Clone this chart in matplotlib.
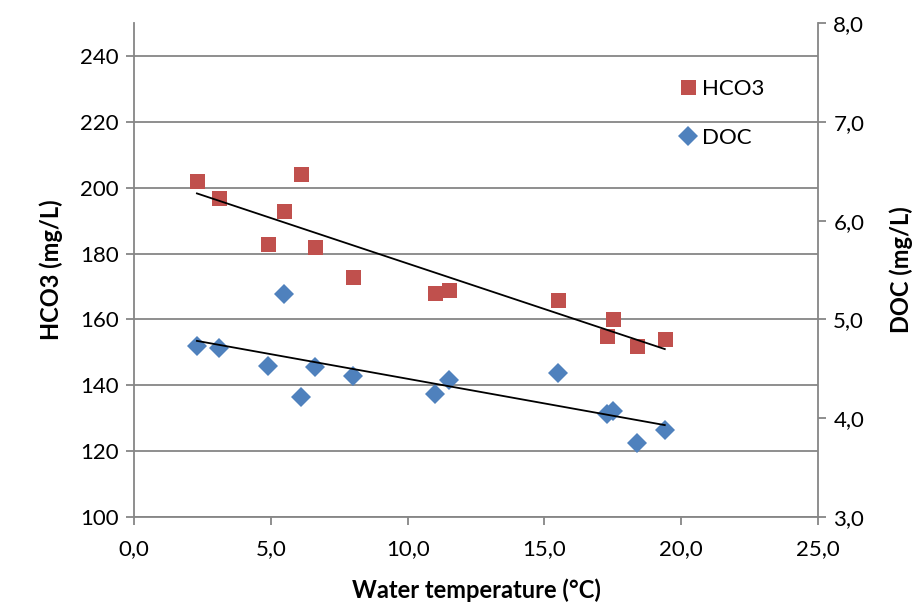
import numpy as np
import matplotlib
matplotlib.use("Agg")
import matplotlib.pyplot as plt
from matplotlib.ticker import FuncFormatter

plt.rcParams['font.family'] = ['Lato', 'DejaVu Sans']

temp_hco3 = [2.3, 3.1, 4.9, 5.5, 6.1, 6.6, 8.0, 11.0, 11.5, 15.5, 17.3, 17.5, 18.4, 19.4]
hco3 = [202, 197, 183, 193, 204, 182, 173, 168, 169, 166, 155, 160, 152, 154]
temp_doc = [2.3, 3.1, 4.9, 5.5, 6.1, 6.6, 8.0, 11.0, 11.5, 15.5, 17.3, 17.5, 18.4, 19.4]
doc = [4.73, 4.71, 4.53, 5.26, 4.21, 4.52, 4.43, 4.25, 4.39, 4.46, 4.04, 4.07, 3.75, 3.88]

red = '#C0504D'
blue = '#4F81BD'
grid = '#868686'

fig = plt.figure(figsize=(9.19, 6.04), dpi=100)
ax = fig.add_axes([134/919, 1-517/604, (818-134)/919, (517-23)/604])
ax2 = ax.twinx()

ax.set_ylim(100, 250)
ax.set_xlim(0, 25)
ax.set_yticks(np.arange(100, 241, 20))
ax.grid(axis='y', color=grid, linewidth=1.3)
ax.set_axisbelow(True)

ax2.set_ylim(3, 8)
ax2.set_yticks(np.arange(3, 8.01, 1))

comma = FuncFormatter(lambda v, p: f"{v:.1f}".replace('.', ','))
ax.xaxis.set_major_formatter(comma)
ax.set_xticks(np.arange(0, 25.1, 5))
ax2.yaxis.set_major_formatter(comma)

h1, = ax.plot(temp_hco3, hco3, 's', color=red, markersize=10.8, markeredgewidth=0, label='HCO3', zorder=3)
h2, = ax2.plot(temp_doc, doc, 'D', color=blue, markersize=10.0, markeredgewidth=0, label='DOC', zorder=3)

t = np.array(temp_hco3, float)
c1 = np.polyfit(t, hco3, 1)
xs = np.array([min(temp_hco3), max(temp_hco3)])
ax.plot(xs, np.polyval(c1, xs), color='black', linewidth=1.3, zorder=4)
t2 = np.array(temp_doc, float)
c2 = np.polyfit(t2, doc, 1)
xs2 = np.array([min(temp_doc), max(temp_doc)])
ax2.plot(xs2, np.polyval(c2, xs2), color='black', linewidth=1.3, zorder=4)

for a in (ax, ax2):
    a.spines['top'].set_visible(False)
    for s in ('left', 'right', 'bottom'):
        a.spines[s].set_color(grid)
        a.spines[s].set_linewidth(1.3)
    a.tick_params(colors=grid, labelcolor='black', labelsize=16, width=1.3, length=6, pad=5)
ax.tick_params(axis='x', pad=10)
ax2.spines['left'].set_visible(False)
ax2.spines['bottom'].set_visible(False)
ax.spines['right'].set_visible(False)

ax.set_xlabel('Water temperature (°C)', fontsize=17, fontweight='bold', labelpad=14)
ax.set_ylabel('HCO3 (mg/L)', fontsize=17, fontweight='bold', labelpad=12)
ax2.set_ylabel('DOC (mg/L)', fontsize=17, fontweight='bold', labelpad=18)

leg = ax2.legend(handles=[h1, h2], loc='upper left', bbox_to_anchor=(0.78, 0.905),
                 frameon=False, fontsize=16, labelspacing=1.3, handletextpad=0.15,
                 handlelength=1.0, borderaxespad=0)

fig.savefig('out.png', dpi=100)
